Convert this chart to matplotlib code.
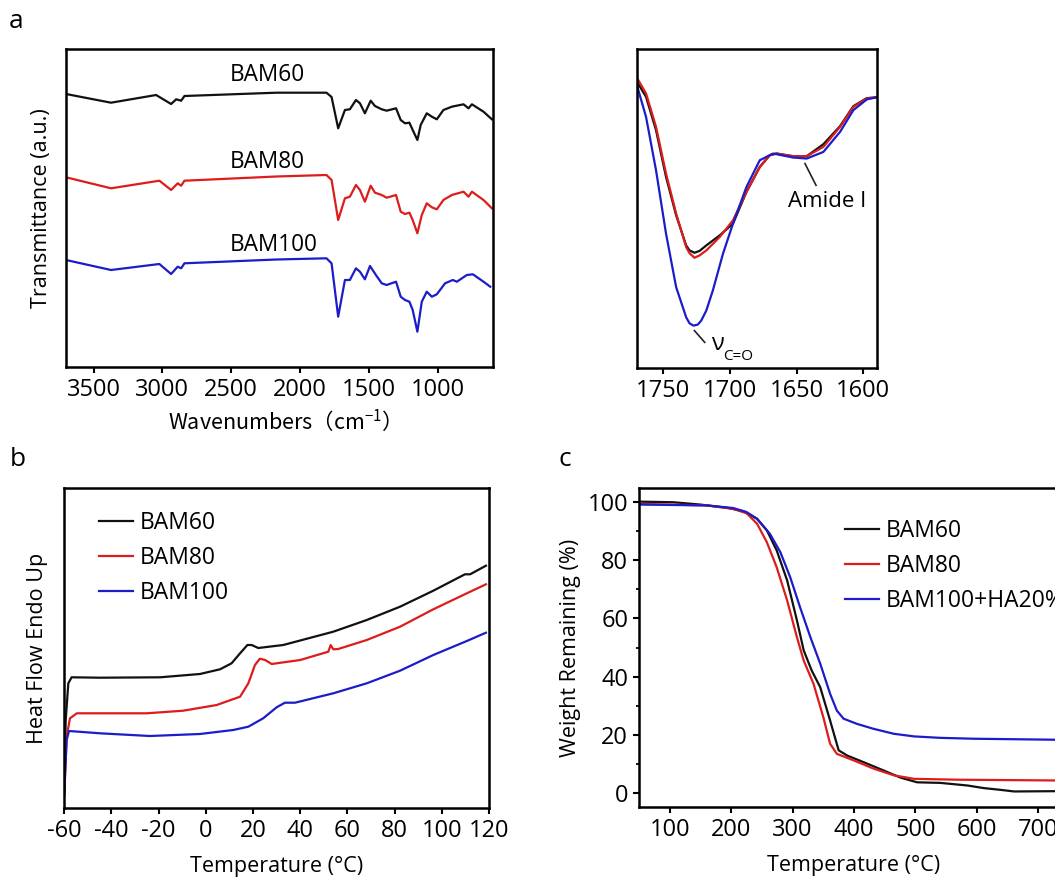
import matplotlib
matplotlib.use('Agg')
import matplotlib.pyplot as plt
from matplotlib.ticker import MultipleLocator

plt.rcParams['font.family'] = ['Open Sans', 'Noto Sans CJK SC', 'DejaVu Sans']
plt.rcParams['axes.unicode_minus'] = False
plt.rcParams['mathtext.fontset'] = 'custom'
plt.rcParams['mathtext.rm'] = 'Open Sans'

# --- a: FTIR (wavenumber cm-1, transmittance a.u.) ---
ftir_wn_60 = [3700, 3373, 3046, 2937, 2900, 2864, 2840, 2173, 1809, 1772, 1724, 1675, 1639,
              1595, 1566, 1530, 1488, 1457, 1408, 1372, 1304, 1270, 1239, 1207, 1183, 1149,
              1125, 1081, 1044, 1008, 960, 899, 814, 778, 753, 669, 608]
ftir_60 = [273, 264.3, 272, 263, 267.7, 266.3, 271, 274.3, 274.3, 270, 238.7, 257, 257.7,
           267, 263.7, 253.7, 266.3, 261, 257.7, 256.3, 258.7, 247, 243.7, 244.3, 237, 227,
           242, 253.7, 250.3, 247.7, 257, 260.3, 262.7, 258.7, 262.7, 255.3, 247.7]

ftir_wn_80 = [3700, 3373, 3022, 2937, 2889, 2864, 2840, 2173, 1809, 1772, 1724, 1675, 1639,
              1595, 1566, 1530, 1488, 1457, 1408, 1372, 1304, 1270, 1239, 1207, 1183, 1149,
              1117, 1081, 1044, 1008, 960, 899, 814, 778, 753, 669, 608]
ftir_80 = [189.7, 178.7, 186.3, 177, 183.7, 181.3, 186.3, 190.5, 192, 187, 147, 168.7, 170.3,
           182, 177, 165.3, 181.3, 174.3, 172, 169.3, 172, 155.3, 153, 154.3, 147, 133.7,
           152, 163.7, 159.7, 157.7, 167, 172, 175.3, 170.3, 175.3, 167, 158.7]

ftir_wn_100 = [3700, 3373, 3022, 2937, 2889, 2864, 2840, 2173, 1809, 1772, 1724, 1675, 1639,
               1595, 1566, 1530, 1493, 1450, 1408, 1372, 1304, 1270, 1239, 1207, 1183, 1149,
               1117, 1081, 1044, 1008, 948, 892, 862, 790, 746, 669, 620]
ftir_100 = [107, 97, 103, 93, 100.3, 98.7, 103.7, 107.5, 108.7, 103.7, 50.3, 87, 87,
            98.7, 95.3, 87.7, 101, 92, 83.7, 82, 85.3, 70.3, 67, 65.3, 57, 35.3,
            65.3, 75.3, 70.3, 72.7, 83.7, 87, 85.3, 92, 92.7, 85.3, 80.3]

# --- a (inset): C=O region ---
zoom_wn_60 = [1770.6, 1763, 1755.5, 1748, 1740.4, 1732.9, 1730.4, 1726.7, 1722.9, 1717.8,
              1707.8, 1697.8, 1687.7, 1677.7, 1670.2, 1665.1, 1652.6, 1642.5, 1630, 1617.5,
              1607.5, 1597.4, 1590.4]
zoom_60 = [287, 270.3, 237, 190.3, 152, 122, 117, 114.7, 116.5, 122,
           132, 143.7, 175.3, 200.3, 212, 213.7, 211, 211, 223, 241,
           261, 269, 269.7]
zoom_wn_80 = [1770.6, 1763, 1755.5, 1748, 1740.4, 1732.9, 1730.4, 1726.7, 1722.9, 1717.8,
              1707.8, 1697.8, 1687.7, 1677.7, 1670.2, 1665.1, 1652.6, 1642.5, 1630, 1617.5,
              1607.5, 1597.4, 1590.4]
zoom_80 = [291, 273.7, 240.3, 193.7, 153.7, 120.3, 114.3, 109.7, 112, 117,
           130.3, 147, 175.3, 200.3, 212, 213.7, 211, 211, 220.3, 240.3,
           260.3, 268.7, 269.7]
zoom_wn_100 = [1770.6, 1763, 1755.5, 1748, 1740.4, 1732.9, 1730.4, 1727.4, 1724.2, 1721.6,
               1717.8, 1712.9, 1705.3, 1697.8, 1687.7, 1677.7, 1667.7, 1652.6, 1642.5, 1630,
               1617.5, 1607.5, 1597.4, 1590.4]
zoom_100 = [285.3, 250.3, 197, 133.7, 80.3, 50.3, 44.3, 42, 43, 47,
            57, 77, 113.7, 143.7, 180.3, 207, 213.7, 209.7, 208.7, 215.3,
            235.3, 257, 267.7, 269.7]

# --- b: DSC ---
dsc_t_60 = [-60, -59.4, -58.3, -56.9, -44.9, -19.4, -2.5, 6, 10.9, 14.5, 17.6, 19.4, 22.2,
            32.8, 54, 68.2, 82.3, 96.4, 108.4, 109.8, 112, 118.7]
dsc_60 = [14.7, 88, 124.7, 130.7, 130.3, 130.7, 134, 138.7, 144.7, 154.7, 163, 163, 160,
          163, 176.3, 188, 201.3, 217.3, 232, 233.7, 233.7, 242.3]
dsc_t_80 = [-60, -59, -57.6, -54.7, -37.8, -25.1, -9.6, 4.6, 14.5, 18, 20.8, 22.9, 25.1, 27.9,
            40, 51.9, 52.9, 54, 56.1, 68.2, 82.3, 96.4, 110.6, 118.7]
dsc_80 = [13, 71.3, 89.7, 94.7, 94.7, 94.7, 97.3, 103, 111.3, 124.7, 143, 149.3, 148, 144,
          148, 156.3, 163, 158.7, 159, 168, 181.3, 198.7, 214.7, 223.7]
dsc_t_100 = [-60, -59, -58, -44.9, -23.7, -2.5, 11.6, 18, 24.3, 30, 33.5, 37.8, 54, 68.2,
             82.3, 96.4, 110.6, 118.7]
dsc_100 = [18, 68, 77, 74.7, 72, 74, 78, 81.3, 89.7, 100.7, 105.3, 105.3, 114.7, 124.7,
           137.3, 153, 167, 175.3]

# --- c: TGA ---
tga_t_60 = [51, 105, 149, 193, 220, 242, 258, 274, 291, 307, 318, 331, 345, 361, 375, 389,
            416, 448, 476, 503, 541, 585, 612, 639, 661, 729, 750]
tga_60 = [100.2, 100, 99.2, 98.1, 96.9, 94.3, 90.3, 83.4, 73.1, 59.3, 49, 42.1, 36.3, 24.9,
          14.6, 12.8, 10.5, 7.7, 5.2, 3.6, 3.4, 2.5, 1.6, 1.0, 0.45, 0.55, 0.55]
tga_t_80 = [51, 160, 203, 225, 242, 258, 274, 291, 307, 318, 334, 350, 361, 372, 400, 432,
            465, 498, 568, 750]
tga_80 = [99.4, 98.9, 97.7, 96.2, 92.6, 86.2, 77.6, 66.2, 53.5, 45.5, 37.5, 26, 16.9, 13.4,
          11.1, 8.3, 6, 4.8, 4.5, 4.2]
tga_t_100 = [51, 160, 203, 225, 242, 263, 280, 296, 312, 329, 345, 361, 372, 383, 405, 432,
             465, 498, 541, 595, 750]
tga_100 = [99.2, 98.9, 98, 96.6, 94.3, 89.1, 82.8, 74.2, 63.9, 53.5, 44.4, 34.1, 28.3, 25.5,
           23.7, 22, 20.3, 19.4, 18.9, 18.6, 18.2]

names = ['BAM60', 'BAM80', 'BAM100']
colors = ['#111111', '#dd1c1c', '#1c1cc8']

W, H = 1055, 877
fig = plt.figure(figsize=(W / 100, H / 100), dpi=100)


def px_axes(l, t, r, b):
    return fig.add_axes([l / W, 1 - b / H, (r - l) / W, (b - t) / H])


def style(ax):
    for s in ax.spines.values():
        s.set_linewidth(1.8)
    ax.tick_params(direction='out', length=4.5, width=1.5, labelsize=17, pad=3.5)
    ax.tick_params(which='minor', direction='out', length=2.5, width=1.3)


lw = 1.6
leg_kw = dict(loc='upper left', frameon=False, fontsize=16.5, handlelength=1.48,
              handletextpad=0.28, labelspacing=0.48, borderaxespad=0)

# a
ax_a = px_axes(66, 49, 493, 367)
style(ax_a)
ax_a.plot(ftir_wn_60, ftir_60, color=colors[0], lw=lw)
ax_a.plot(ftir_wn_80, ftir_80, color=colors[1], lw=lw)
ax_a.plot(ftir_wn_100, ftir_100, color=colors[2], lw=lw)
ax_a.set_xlim(3700, 600)
ax_a.set_ylim(0, 318)
ax_a.set_yticks([])
ax_a.xaxis.set_major_locator(MultipleLocator(500))
for name, yy in zip(names, [292, 204.5, 122]):
    ax_a.text(2510, yy, name, fontsize=16.3, ha='left', va='center')
ax_a.set_ylabel('Transmittance (a.u.)', fontsize=15.5, labelpad=10)
ax_a.set_xlabel('Wavenumbers（cm$^{\\mathregular{-1}}$）', fontsize=15.5,
                family='Noto Sans CJK SC', labelpad=4)

# a inset
ax_z = px_axes(636.7, 49, 876.7, 367.7)
style(ax_z)
ax_z.plot(zoom_wn_60, zoom_60, color=colors[0], lw=lw)
ax_z.plot(zoom_wn_80, zoom_80, color=colors[1], lw=lw)
ax_z.plot(zoom_wn_100, zoom_100, color=colors[2], lw=lw)
ax_z.set_xlim(1770, 1590)
ax_z.set_ylim(0, 318)
ax_z.set_yticks([])
ax_z.xaxis.set_major_locator(MultipleLocator(50))
ax_z.plot([1643.8, 1635.5], [203.7, 182], color='#222222', lw=1.2)
ax_z.text(1627.5, 166, 'Amide I', fontsize=16, ha='center', va='center')
ax_z.plot([1726.7, 1719], [37, 25.3], color='#222222', lw=1.2)
ax_z.text(1714, 24, 'ν', fontsize=17, ha='left', va='center')
ax_z.text(1705.5, 11, 'C=O', fontsize=11, ha='left', va='center')

# b
ax_b = px_axes(64.3, 487.7, 489, 808.3)
style(ax_b)
ax_b.plot(dsc_t_60, dsc_60, color=colors[0], lw=lw, label=names[0])
ax_b.plot(dsc_t_80, dsc_80, color=colors[1], lw=lw, label=names[1])
ax_b.plot(dsc_t_100, dsc_100, color=colors[2], lw=lw, label=names[2])
ax_b.set_xlim(-60, 120)
ax_b.set_ylim(-0.3, 320.3)
ax_b.set_yticks([])
ax_b.xaxis.set_major_locator(MultipleLocator(20))
ax_b.set_ylabel('Heat Flow Endo Up', fontsize=15.5, labelpad=12)
ax_b.set_xlabel('Temperature (°C)', fontsize=15.5, labelpad=9)
ax_b.legend(bbox_to_anchor=(0.061, 0.955), **leg_kw)

# c
ax_c = px_axes(639.3, 487.7, 1068.7, 807.3)
style(ax_c)
ax_c.plot(tga_t_60, tga_60, color=colors[0], lw=lw, label='BAM60')
ax_c.plot(tga_t_80, tga_80, color=colors[1], lw=lw, label='BAM80')
ax_c.plot(tga_t_100, tga_100, color=colors[2], lw=lw, label='BAM100+HA20%')
ax_c.set_xlim(50, 750)
ax_c.set_ylim(-5, 105)
ax_c.xaxis.set_major_locator(MultipleLocator(100))
ax_c.yaxis.set_major_locator(MultipleLocator(20))
ax_c.yaxis.set_minor_locator(MultipleLocator(10))
ax_c.set_ylabel('Weight Remaining (%)', fontsize=15.5, labelpad=5)
ax_c.set_xlabel('Temperature (°C)', fontsize=15.5, labelpad=9)
ax_c.legend(bbox_to_anchor=(0.458, 0.932), **leg_kw)

# panel letters
fig.text(16.5 / W, 1 - 22 / H, 'a', fontsize=19, ha='center', va='center')
fig.text(18 / W, 1 - 460 / H, 'b', fontsize=19, ha='center', va='center')
fig.text(565 / W, 1 - 460 / H, 'c', fontsize=19, ha='center', va='center')

fig.savefig('out.png', dpi=100)
